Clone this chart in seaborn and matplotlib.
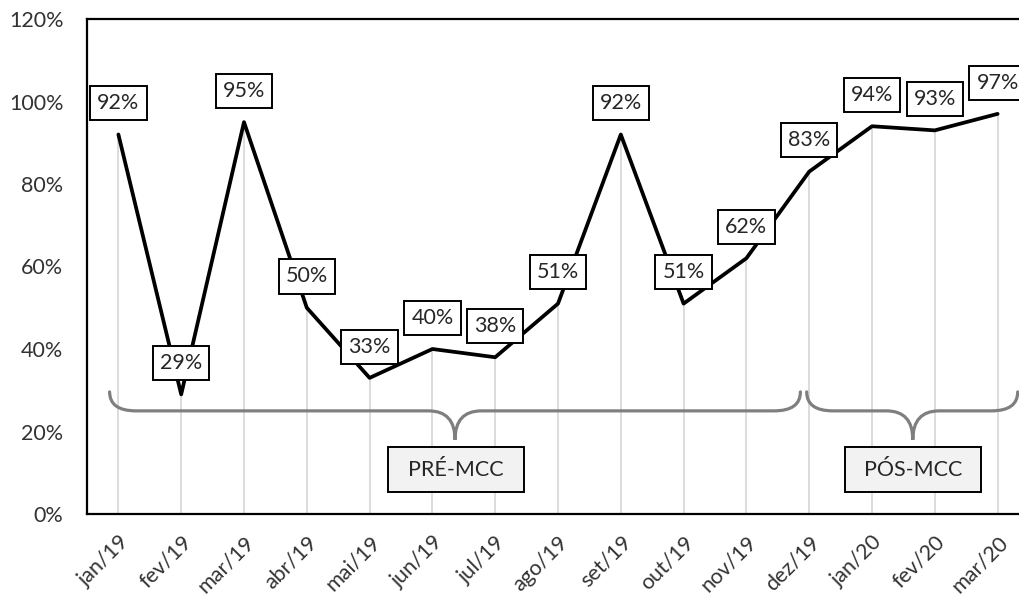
import matplotlib
matplotlib.use("Agg")
import matplotlib.pyplot as plt
import seaborn as sns
import pandas as pd
from matplotlib.path import Path
from matplotlib.patches import PathPatch, Rectangle

months = ["jan/19", "fev/19", "mar/19", "abr/19", "mai/19", "jun/19", "jul/19",
          "ago/19", "set/19", "out/19", "nov/19", "dez/19", "jan/20", "fev/20", "mar/20"]
values = [92, 29, 95, 50, 33, 40, 38, 51, 92, 51, 62, 83, 94, 93, 97]
y_ticks = [0, 20, 40, 60, 80, 100, 120]
phase_labels = ["PRÉ-MCC", "PÓS-MCC"]

sns.set_style("white")
plt.rcParams["font.family"] = ["Lato", "DejaVu Sans"]

FS = 15.5

df = pd.DataFrame({"idx": range(len(months)), "mes": months, "valor": values})

fig = plt.figure(figsize=(10.19, 5.95), dpi=100)
ax = fig.add_axes([87 / 1019, 81 / 595, 942 / 1019, 495 / 595])

# drop lines from each point to the axis
ax.vlines(df["idx"], 0, df["valor"], color="#d9d9d9", lw=1.3, zorder=1)

sns.lineplot(data=df, x="idx", y="valor", ax=ax, color="black", lw=2.7,
             zorder=3, solid_joinstyle="round")

for i, v in zip(df["idx"], df["valor"]):
    ax.annotate(f"{v}%", (i, v), xytext=(0, 22.5), textcoords="offset points",
                ha="center", va="center", fontsize=FS, color="#262626", zorder=5,
                bbox=dict(boxstyle="square,pad=0.33", fc="white", ec="black", lw=1.4))


def brace(x0, x1, xc, y_end, y_mid, y_tip, r=0.42):
    verts = [(x0, y_end), (x0, y_mid), (x0 + r, y_mid),
             (xc - r, y_mid), (xc, y_mid), (xc, y_tip),
             (xc, y_mid), (xc + r, y_mid),
             (x1 - r, y_mid), (x1, y_mid), (x1, y_end)]
    codes = [Path.MOVETO, Path.CURVE3, Path.CURVE3,
             Path.LINETO, Path.CURVE3, Path.CURVE3,
             Path.CURVE3, Path.CURVE3,
             Path.LINETO, Path.CURVE3, Path.CURVE3]
    ax.add_patch(PathPatch(Path(verts, codes), fill=False, ec="#7f7f7f",
                           lw=2.3, zorder=2, capstyle="round"))


brace(-0.14, 10.86, 5.36, 29.6, 25.0, 18.0)
brace(10.96, 14.32, 12.65, 29.6, 25.0, 18.0)

for cx, txt in zip([5.38, 12.65], phase_labels):
    ax.add_patch(Rectangle((cx - 1.08, 5.3), 2.16, 10.9, fc="#f2f2f2",
                           ec="black", lw=1.4, zorder=4))
    ax.text(cx, 10.75, txt, ha="center", va="center", fontsize=FS,
            color="#262626", zorder=5)

ax.set_xlim(-0.5, 14.5)
ax.set_ylim(0, 120)
ax.set_xticks(df["idx"])
ax.set_xticklabels(months, rotation=45, ha="right", rotation_mode="anchor",
                   fontsize=FS, color="#333333")
ax.set_yticks(y_ticks)
ax.set_yticklabels([f"{t}%" for t in y_ticks], fontsize=FS, color="#333333")
ax.tick_params(axis="y", length=0, pad=17)
ax.tick_params(axis="x", length=0, pad=13)
ax.set_xlabel("")
ax.set_ylabel("")
ax.grid(False)
for side in ["left", "top", "bottom", "right"]:
    ax.spines[side].set_color("black")
    ax.spines[side].set_linewidth(1.6)

fig.savefig("out.png", dpi=100)
